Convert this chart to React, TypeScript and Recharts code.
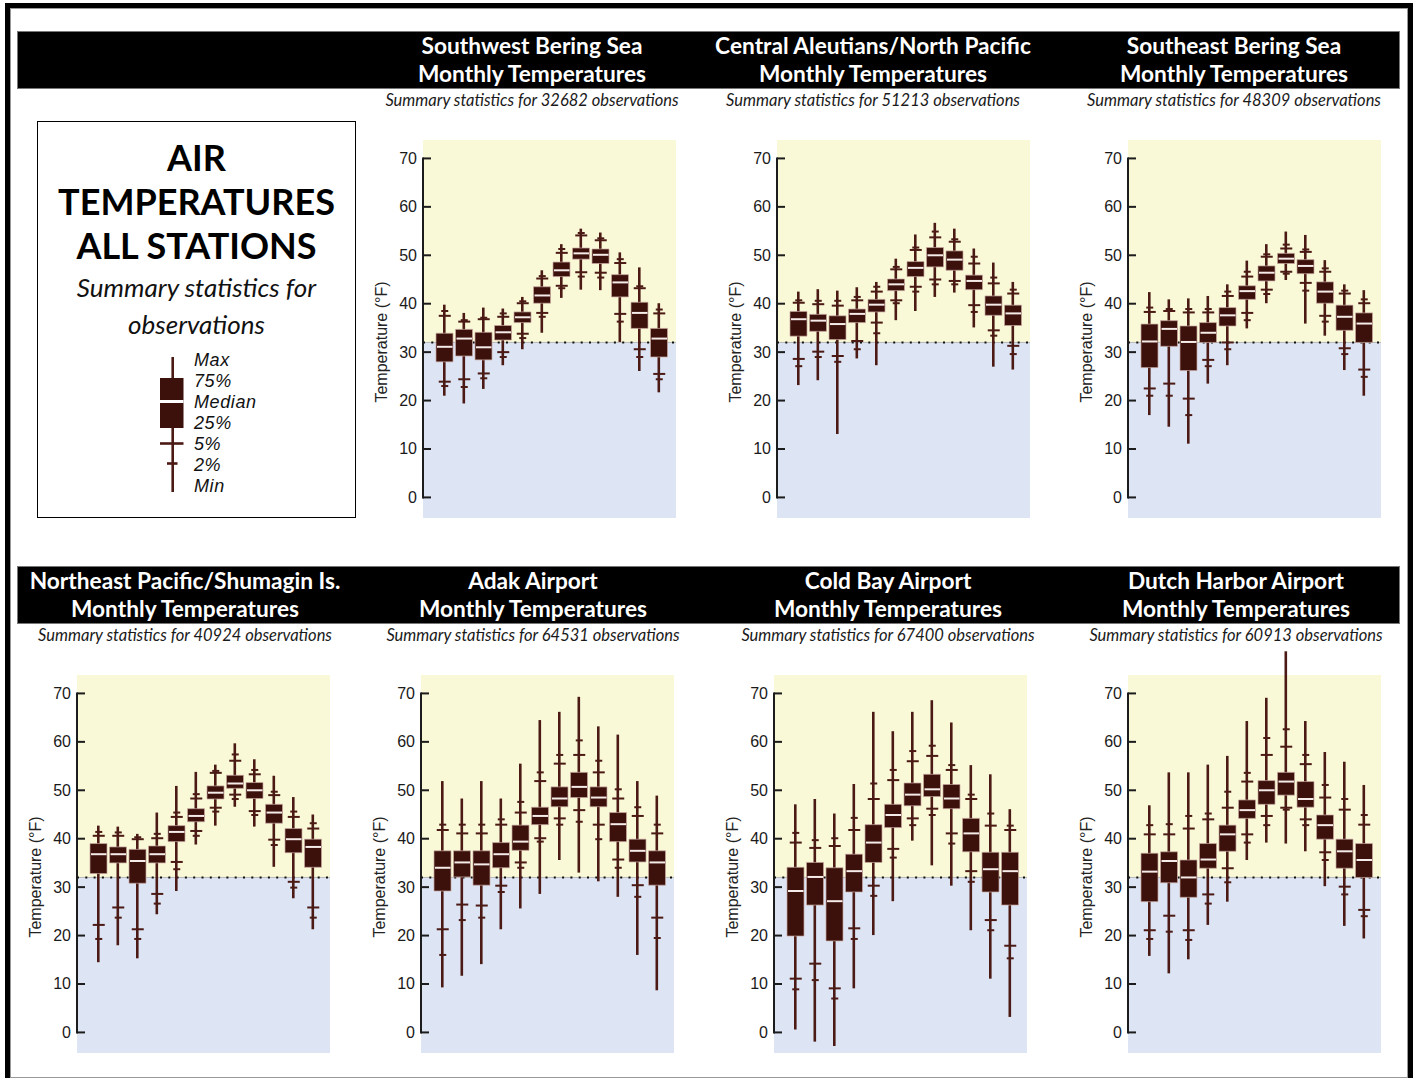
import React from "react";
import { ComposedChart, Bar, Scatter, XAxis, YAxis, ReferenceArea, ReferenceLine } from "recharts";

const MONTHS = ["Jan", "Feb", "Mar", "Apr", "May", "Jun", "Jul", "Aug", "Sep", "Oct", "Nov", "Dec"];
const Y_TICKS = [0, 10, 20, 30, 40, 50, 60, 70];
const FREEZING = 32;

// one row per month: [min, 2%, 5%, 25%, median, 75%, 95%, 98%, max] in °F
const SW_BERING = [
  [21.0, 23.0, 23.9, 28.0, 31.1, 33.9, 37.5, 38.5, 39.8],
  [19.4, 22.8, 24.4, 29.2, 32.8, 34.7, 36.3, 36.6, 38.1],
  [22.4, 24.6, 25.6, 28.4, 31.0, 34.1, 36.8, 37.1, 39.2],
  [27.3, 29.0, 30.0, 32.5, 34.1, 35.5, 37.3, 38.0, 39.0],
  [30.6, 32.9, 33.8, 36.1, 37.2, 38.3, 40.1, 40.5, 41.4],
  [34.0, 37.3, 38.1, 40.1, 41.7, 43.5, 45.2, 45.7, 46.9],
  [41.2, 43.2, 43.7, 45.6, 46.9, 48.6, 50.5, 51.3, 52.3],
  [42.9, 45.6, 46.5, 49.2, 50.4, 51.5, 54.1, 54.6, 55.5],
  [42.8, 45.4, 46.4, 48.3, 50.1, 51.3, 53.1, 53.5, 54.7],
  [32.1, 36.3, 37.9, 41.4, 44.4, 46.0, 48.4, 49.2, 50.6],
  [26.1, 29.0, 30.6, 34.9, 38.1, 40.3, 43.2, 43.6, 47.5],
  [21.7, 24.4, 25.5, 29.0, 32.8, 34.9, 38.0, 38.8, 40.1],
];

const CENTRAL_ALEUTIANS = [
  [23.2, 27.1, 28.6, 33.3, 36.8, 38.4, 40.2, 40.7, 42.5],
  [24.2, 29.0, 30.1, 34.3, 36.5, 37.8, 39.9, 40.6, 43.0],
  [13.1, 28.0, 29.2, 32.6, 35.8, 37.5, 39.6, 40.6, 42.7],
  [28.7, 30.6, 32.3, 36.1, 37.9, 38.9, 40.7, 41.4, 43.4],
  [27.3, 33.9, 36.1, 38.3, 39.8, 40.9, 42.5, 43.5, 44.5],
  [36.6, 40.1, 40.7, 42.7, 44.0, 45.1, 47.1, 47.6, 49.3],
  [38.5, 42.5, 43.5, 45.6, 47.4, 48.7, 51.1, 51.6, 54.3],
  [41.4, 44.0, 45.0, 47.6, 50.0, 51.6, 53.7, 54.9, 56.7],
  [42.3, 44.0, 44.7, 46.9, 49.1, 50.9, 52.8, 53.3, 55.5],
  [35.1, 38.3, 39.7, 42.9, 44.7, 45.9, 48.3, 49.7, 51.4],
  [27.0, 33.4, 34.5, 37.6, 39.8, 41.6, 44.2, 45.4, 48.5],
  [26.4, 29.6, 31.3, 35.5, 38.0, 39.7, 42.1, 42.9, 44.5],
];

const SE_BERING = [
  [17.0, 21.0, 22.5, 26.8, 32.2, 35.8, 38.3, 39.2, 42.4],
  [14.6, 21.0, 23.5, 31.2, 34.8, 36.5, 38.5, 38.9, 40.9],
  [11.1, 17.0, 20.4, 26.2, 32.1, 35.4, 38.2, 38.9, 41.1],
  [23.5, 27.1, 28.4, 32.0, 34.0, 36.1, 38.2, 38.9, 41.6],
  [27.3, 30.6, 32.0, 35.4, 37.6, 39.2, 41.6, 42.5, 44.0],
  [34.9, 36.6, 38.1, 40.9, 42.6, 43.7, 45.6, 46.6, 48.9],
  [40.1, 42.0, 42.9, 44.7, 46.4, 47.8, 49.7, 50.2, 52.3],
  [44.9, 46.2, 46.6, 48.3, 49.3, 50.4, 51.4, 52.2, 54.9],
  [35.9, 42.7, 44.3, 46.2, 47.8, 49.1, 50.7, 51.2, 54.2],
  [33.4, 36.3, 37.5, 40.1, 42.5, 44.5, 46.6, 47.3, 49.0],
  [26.3, 29.6, 30.8, 34.5, 37.3, 39.7, 42.1, 42.7, 44.0],
  [21.0, 24.9, 26.4, 32.0, 35.9, 38.1, 40.1, 40.9, 42.8],
];

const NE_PACIFIC = [
  [14.5, 19.3, 22.2, 32.8, 36.8, 39.0, 40.6, 41.4, 42.7],
  [18.0, 23.7, 25.8, 35.0, 36.8, 38.3, 40.6, 41.3, 42.5],
  [15.3, 19.3, 21.3, 30.8, 35.4, 37.8, 39.9, 40.3, 41.0],
  [24.4, 26.6, 28.6, 35.0, 36.8, 38.5, 40.1, 41.0, 45.4],
  [29.2, 33.7, 35.2, 39.4, 41.4, 42.7, 44.5, 45.4, 50.9],
  [38.8, 40.6, 41.6, 43.5, 44.7, 46.2, 48.3, 49.2, 53.8],
  [42.7, 45.6, 46.4, 48.2, 49.5, 50.9, 53.6, 54.0, 55.3],
  [46.6, 48.2, 49.1, 50.4, 51.4, 53.1, 56.1, 57.4, 59.7],
  [42.5, 44.9, 45.7, 48.3, 50.0, 51.6, 53.3, 54.2, 56.4],
  [34.2, 38.7, 39.8, 43.2, 45.4, 47.1, 49.0, 49.7, 53.0],
  [27.7, 29.9, 31.1, 37.1, 39.9, 42.1, 44.5, 45.6, 48.6],
  [21.3, 23.7, 25.8, 34.1, 38.3, 39.9, 42.1, 43.2, 45.0],
];

const ADAK = [
  [9.3, 16.0, 21.3, 29.2, 34.0, 37.5, 41.8, 42.9, 51.9],
  [11.7, 23.2, 26.4, 32.1, 35.1, 37.5, 41.1, 42.9, 48.3],
  [14.1, 23.7, 26.2, 30.4, 34.7, 37.5, 41.1, 42.9, 51.9],
  [21.3, 29.0, 30.3, 34.0, 36.8, 39.2, 42.9, 44.0, 48.3],
  [25.6, 34.0, 35.1, 37.6, 39.4, 42.8, 45.4, 47.6, 55.5],
  [28.6, 39.4, 40.1, 42.9, 44.7, 46.5, 51.9, 53.7, 64.5],
  [35.6, 42.9, 44.2, 46.6, 48.3, 50.7, 55.5, 57.3, 66.2],
  [33.0, 43.5, 45.9, 48.5, 50.7, 53.7, 57.3, 60.3, 69.3],
  [31.2, 39.9, 42.9, 46.6, 48.5, 50.7, 53.7, 56.1, 63.2],
  [28.0, 34.0, 35.7, 39.4, 43.0, 45.4, 48.3, 50.2, 61.5],
  [16.0, 28.0, 30.4, 35.2, 37.5, 39.9, 44.7, 46.5, 51.9],
  [8.7, 19.5, 23.7, 30.4, 35.1, 37.5, 41.1, 42.9, 48.9],
];

const COLD_BAY = [
  [0.6, 8.9, 11.1, 19.9, 29.2, 34.1, 39.2, 41.2, 47.1],
  [-1.9, 10.8, 14.2, 26.3, 32.1, 35.1, 38.1, 39.7, 48.2],
  [-2.8, 7.0, 9.1, 18.9, 27.1, 34.0, 38.5, 40.1, 45.2],
  [9.1, 19.3, 21.5, 29.0, 33.3, 36.8, 41.8, 44.3, 51.3],
  [20.1, 28.2, 30.3, 35.1, 39.2, 42.9, 48.2, 51.4, 66.2],
  [27.1, 36.1, 37.9, 42.3, 44.9, 47.1, 52.1, 54.2, 62.2],
  [39.6, 42.8, 44.2, 46.8, 49.1, 51.5, 56.0, 58.1, 66.2],
  [34.5, 44.9, 46.2, 48.7, 50.2, 53.3, 57.1, 59.2, 68.6],
  [30.3, 39.0, 41.1, 46.2, 48.3, 51.2, 54.2, 55.2, 64.0],
  [21.1, 31.1, 33.3, 37.3, 41.1, 44.2, 48.2, 49.1, 55.2],
  [11.1, 21.1, 23.2, 29.0, 33.7, 37.2, 42.7, 45.2, 53.3],
  [3.2, 15.3, 17.9, 26.3, 33.3, 37.2, 41.8, 42.7, 46.1],
];

const DUTCH_HARBOR = [
  [15.8, 19.3, 21.1, 27.0, 33.2, 37.0, 40.9, 42.8, 46.9],
  [12.2, 20.8, 24.1, 30.9, 35.4, 37.3, 40.9, 43.0, 53.7],
  [15.1, 19.1, 21.1, 27.9, 32.0, 35.6, 42.1, 44.7, 53.7],
  [22.2, 26.6, 28.5, 33.9, 35.7, 39.0, 44.0, 45.2, 55.3],
  [27.0, 31.0, 33.9, 37.4, 40.9, 42.8, 46.4, 49.7, 57.1],
  [35.6, 39.2, 40.9, 44.2, 45.9, 48.0, 51.8, 53.6, 64.3],
  [39.2, 42.8, 44.7, 47.1, 50.0, 52.0, 57.3, 60.8, 69.1],
  [39.0, 46.0, 46.4, 49.0, 51.8, 53.7, 59.0, 62.6, 78.7],
  [37.4, 42.8, 44.0, 46.5, 48.2, 51.8, 55.4, 57.3, 64.3],
  [30.2, 35.6, 37.2, 39.9, 42.8, 44.9, 48.5, 51.1, 57.9],
  [22.0, 28.5, 30.1, 33.9, 37.4, 39.9, 46.0, 48.2, 55.9],
  [19.4, 24.0, 25.3, 32.0, 35.6, 39.0, 42.9, 44.9, 51.1],
];

const LEGEND_LABELS = ["Max", "75%", "Median", "25%", "5%", "2%", "Min"];

// layout
const Y_MIN = -4.25;
const Y_MAX = 80;
const BG_TOP = 73.8;
const PLOT_W = 253;
const PLOT_H = 408;
const AXIS_W = 50;
const K = PLOT_H / (Y_MAX - Y_MIN);

const BOX = "#3c110c";
const LINE = "#4b1a14";
const MEDIAN = "#f5ebe8";
const AXIS = "#1c1c1c";
const YELLOW = "#f9f9d8";
const BLUE = "#dde4f4";
const AXIS_FONT = "'Liberation Sans', Arial, sans-serif";
const TITLE_FONT = "Lato, 'Open Sans', sans-serif";

const PANELS = [
  { name: "Southwest Bering Sea", obs: 32682, stats: SW_BERING, left: 422.5, row: 0, cx: 532 },
  { name: "Central Aleutians/North Pacific", obs: 51213, stats: CENTRAL_ALEUTIANS, left: 776.7, row: 0, cx: 873 },
  { name: "Southeast Bering Sea", obs: 48309, stats: SE_BERING, left: 1127.7, row: 0, cx: 1234 },
  { name: "Northeast Pacific/Shumagin Is.", obs: 40924, stats: NE_PACIFIC, left: 77.3, row: 1, cx: 185 },
  { name: "Adak Airport", obs: 64531, stats: ADAK, left: 420.7, row: 1, cx: 533 },
  { name: "Cold Bay Airport", obs: 67400, stats: COLD_BAY, left: 774.3, row: 1, cx: 888 },
  { name: "Dutch Harbor Airport", obs: 60913, stats: DUTCH_HARBOR, left: 1127.7, row: 1, cx: 1236 },
];

const ROW_ZERO = [497.3, 1032.3];
const ROW_BAR = [31, 566];

function toRows(stats: number[][]) {
  return MONTHS.map((m, i) => {
    const [min, p2, p5, q1, med, q3, p95, p98, max] = stats[i];
    return { m, p2, p5, med, p95, p98, whisker: [min, max], box: [q1, q3] };
  });
}

const hTick = (w: number, color: string, sw: number) => (props: any) => {
  const { cx, cy } = props;
  if (cx == null || cy == null) return <g />;
  return <line x1={cx - w / 2} x2={cx + w / 2} y1={cy} y2={cy} stroke={color} strokeWidth={sw} />;
};

function AxisTick({ x, y, payload }: any) {
  return (
    <g>
      <line x1={x} x2={x + 8} y1={y} y2={y} stroke={AXIS} strokeWidth={2} />
      <text x={x - 6} y={y + 5.5} textAnchor="end" fontSize={16} fontFamily={AXIS_FONT} fill="#1a1a1a">
        {payload.value}
      </text>
    </g>
  );
}

function Panel({ p }: { p: (typeof PANELS)[number] }) {
  const zero = ROW_ZERO[p.row];
  const top = zero - Y_MAX * K;
  const data = toRows(p.stats);
  const bar = ROW_BAR[p.row];
  return (
    <>
      <div
        style={{
          position: "absolute", left: p.cx - 220, width: 440, top: bar + 1, textAlign: "center",
          color: "#fff", fontFamily: TITLE_FONT, fontWeight: 700, fontSize: 22.7, lineHeight: "28px",
        }}
      >
        {p.name}
        <br />
        Monthly Temperatures
      </div>
      <div
        style={{
          position: "absolute", left: p.cx - 220, width: 440, top: bar + 60, textAlign: "center",
          color: "#1a1a1a", fontFamily: TITLE_FONT, fontStyle: "italic", fontSize: 16.5, lineHeight: "18px",
        }}
      >
        Summary statistics for {p.obs} observations
      </div>
      <div
        style={{
          position: "absolute", left: p.left - 41 - 100, top: zero - 155 - 10, width: 200, height: 20,
          lineHeight: "20px", textAlign: "center", transform: "rotate(-90deg)",
          fontFamily: AXIS_FONT, fontSize: 16, color: "#222",
        }}
      >
        Temperature (°F)
      </div>
      <div style={{ position: "absolute", left: p.left - AXIS_W, top }}>
        <ComposedChart width={AXIS_W + PLOT_W} height={PLOT_H} data={data} margin={{ top: 0, right: 0, bottom: 0, left: 0 }}>
          <XAxis xAxisId="bg" dataKey="m" hide />
          <XAxis xAxisId="w" dataKey="m" hide padding={{ left: 12, right: 7 }} />
          <XAxis xAxisId="b" dataKey="m" hide padding={{ left: 12, right: 7 }} />
          <YAxis
            type="number"
            domain={[Y_MIN, Y_MAX]}
            ticks={Y_TICKS}
            width={AXIS_W}
            tickSize={0}
            tickMargin={0}
            tickLine={false}
            axisLine={{ stroke: AXIS, strokeWidth: 2, strokeDasharray: `0 ${(Y_MAX - 70) * K - 1} ${70 * K + 2} 2000` }}
            tick={<AxisTick />}
            interval={0}
          />
          <ReferenceArea xAxisId="bg" y1={FREEZING} y2={BG_TOP} fill={YELLOW} fillOpacity={1} stroke="none" zIndex={-200} />
          <ReferenceArea xAxisId="bg" y1={Y_MIN} y2={FREEZING} fill={BLUE} fillOpacity={1} stroke="none" zIndex={-200} />
          <ReferenceLine xAxisId="bg" y={FREEZING} stroke="#b8b8b8" strokeWidth={1} zIndex={-150} />
          <ReferenceLine xAxisId="bg" y={FREEZING} stroke="#111" strokeWidth={2} strokeDasharray="2 6.3" zIndex={-150} />
          <Bar xAxisId="w" dataKey="whisker" barSize={2.6} fill={LINE} isAnimationActive={false} />
          <Bar xAxisId="b" dataKey="box" barSize={17} fill={BOX} stroke="#c9a8a0" strokeWidth={0.7} isAnimationActive={false} />
          <Scatter xAxisId="b" dataKey="p2" shape={hTick(7, LINE, 2)} isAnimationActive={false} />
          <Scatter xAxisId="b" dataKey="p5" shape={hTick(12, LINE, 2)} isAnimationActive={false} />
          <Scatter xAxisId="b" dataKey="p95" shape={hTick(12, LINE, 2)} isAnimationActive={false} />
          <Scatter xAxisId="b" dataKey="p98" shape={hTick(7, LINE, 2)} isAnimationActive={false} />
          <Scatter xAxisId="b" dataKey="med" shape={hTick(15.5, MEDIAN, 2)} isAnimationActive={false} />
        </ComposedChart>
      </div>
    </>
  );
}

function LegendBox() {
  const labelMids = [360, 381, 402, 423, 444, 465, 486];
  return (
    <>
      <div style={{ position: "absolute", left: 37, top: 121, width: 319, height: 397, border: "1px solid #000", boxSizing: "border-box" }} />
      <div
        style={{
          position: "absolute", left: 37, width: 319, top: 135, textAlign: "center",
          fontFamily: TITLE_FONT, fontWeight: 700, fontSize: 36, lineHeight: "44px", color: "#000",
        }}
      >
        AIR
        <br />
        TEMPERATURES
        <br />
        ALL STATIONS
      </div>
      <div
        style={{
          position: "absolute", left: 37, width: 319, top: 268.5, textAlign: "center",
          fontFamily: TITLE_FONT, fontStyle: "italic", fontSize: 26, lineHeight: "37px", color: "#111",
        }}
      >
        Summary statistics for
        <br />
        observations
      </div>
      <svg style={{ position: "absolute", left: 150, top: 350 }} width={40} height={150}>
        <line x1={22.7} x2={22.7} y1={7} y2={142} stroke={LINE} strokeWidth={2.6} />
        <rect x={10} y={28} width={23.5} height={50} fill={BOX} />
        <line x1={10} x2={33.5} y1={51.5} y2={51.5} stroke="#fff" strokeWidth={3} />
        <line x1={10} x2={33.5} y1={93.5} y2={93.5} stroke={LINE} strokeWidth={2.6} />
        <line x1={17} x2={27.5} y1={113.5} y2={113.5} stroke={LINE} strokeWidth={2.6} />
      </svg>
      {LEGEND_LABELS.map((t, i) => (
        <div
          key={t}
          style={{
            position: "absolute", left: 194, top: labelMids[i] - 9, lineHeight: "18px",
            fontFamily: AXIS_FONT, fontStyle: "italic", fontSize: 18, letterSpacing: 0.6, color: "#111",
          }}
        >
          {t}
        </div>
      ))}
    </>
  );
}

export default function App() {
  return (
    <div style={{ position: "absolute", left: 0, top: 0, width: 1416, height: 1078, background: "#fff", overflow: "hidden" }}>
      <div
        style={{
          position: "absolute", left: 5, top: 3, width: 1408, height: 1080, border: "5px solid #000",
          boxSizing: "border-box", boxShadow: "inset 0 0 0 1px #999",
        }}
      />
      {ROW_BAR.map((t) => (
        <div key={t} style={{ position: "absolute", left: 17, top: t, width: 1383, height: 58, background: "#000", border: "1px solid #777", boxSizing: "border-box" }} />
      ))}
      <LegendBox />
      {PANELS.map((p) => (
        <Panel key={p.name} p={p} />
      ))}
    </div>
  );
}
